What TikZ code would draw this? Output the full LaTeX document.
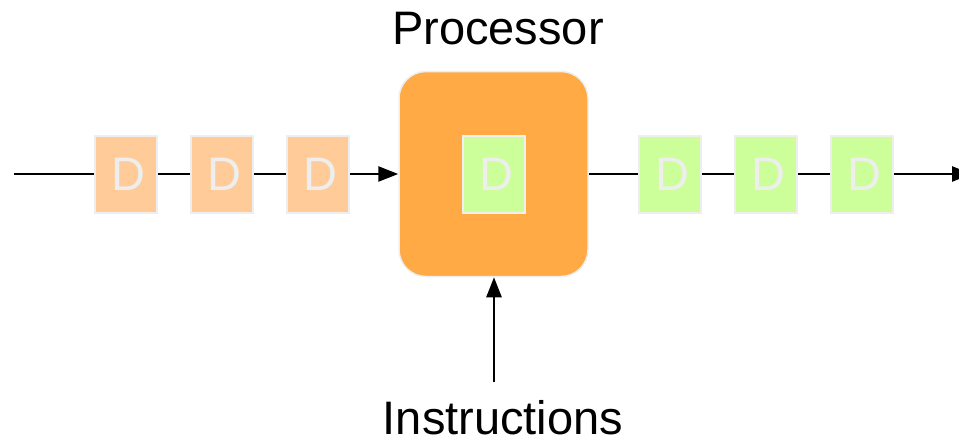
\documentclass[tikz,border=0pt]{standalone}
\usepackage{fontspec}
\setmainfont{Liberation Sans}
\usetikzlibrary{arrows.meta}
\definecolor{dataorange}{HTML}{FFCC99}
\definecolor{datagreen}{HTML}{CCFF99}
\definecolor{procorange}{HTML}{FFAA44}
\definecolor{edgegray}{HTML}{EEEEEE}
\tikzset{
  datum/.style={draw=edgegray, line width=2pt, minimum width=62pt, minimum height=77pt,
    inner sep=0pt, text=edgegray, font=\fontsize{47}{47}\selectfont},
  wire/.style={line width=2.5pt, black},
  arrowed/.style={wire, -{Triangle[length=20pt,width=15pt]}},
  caption/.style={font=\fontsize{47}{47}\selectfont, inner sep=0pt, anchor=base}
}
\begin{document}
\begin{tikzpicture}[x=1pt,y=-1pt]
  \useasboundingbox (0,0) rectangle (959,439);
  % processor block
  \node[draw=edgegray, line width=1.5pt, fill=procorange, rounded corners=27pt,
        minimum width=189pt, minimum height=205pt, inner sep=0pt] (proc) at (493.5,174) {};
  \node[datum, fill=datagreen, draw=white!94!black] (cur) at (494,174) {\hspace*{4pt}D};
  \node[caption] (ptitle) at (498,45) {Processor};
  % incoming data
  \coordinate (src) at (14,174);
  \node[datum, fill=dataorange] (in1) at (126,174) {\hspace*{4pt}D};
  \node[datum, fill=dataorange] (in2) at (222,174) {\hspace*{4pt}D};
  \node[datum, fill=dataorange] (in3) at (318,174) {\hspace*{4pt}D};
  % outgoing data
  \node[datum, fill=datagreen] (out1) at (670,174) {\hspace*{4pt}D};
  \node[datum, fill=datagreen] (out2) at (766,174) {\hspace*{4pt}D};
  \node[datum, fill=datagreen] (out3) at (862,174) {\hspace*{4pt}D};
  \coordinate (sink) at (972,174);
  % instructions
  \node[caption] (instr) at (503,434.5) {Instructions};
  \coordinate (ifoot) at (494,382);
  % connectors
  \draw[wire] (src) -- (in1.west);
  \draw[wire] (in1) -- (in2);
  \draw[wire] (in2) -- (in3);
  \draw[arrowed] (in3.east) -- (proc.west |- in3.east);
  \draw[wire] (proc.east |- out1.west) -- (out1.west);
  \draw[wire] (out1) -- (out2);
  \draw[wire] (out2) -- (out3);
  \draw[arrowed] (out3.east) -- (sink);
  \draw[arrowed] (ifoot) -- (ifoot |- proc.south);
\end{tikzpicture}
\end{document}
